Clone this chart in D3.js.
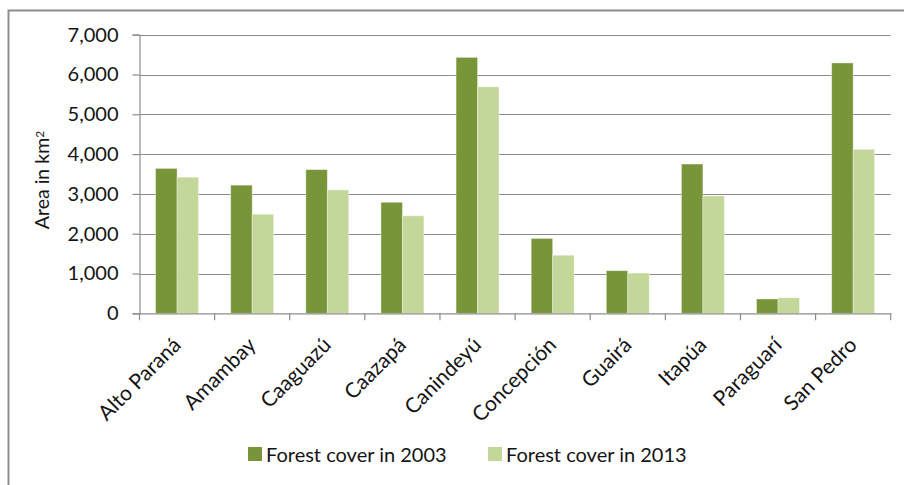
<!DOCTYPE html>
<html>
<head>
<meta charset="utf-8">
<script src="https://cdn.jsdelivr.net/npm/d3@7/dist/d3.min.js"></script>
<style>
  html, body { margin: 0; padding: 0; background: #fff; }
  svg { display: block; }
  text { font-family: Lato, "Open Sans", sans-serif; fill: #141414; }
</style>
</head>
<body>
<svg id="chart" width="904" height="485"></svg>
<script>
// Forest cover by department (km²)
const departments = ["Alto Paraná", "Amambay", "Caaguazú", "Caazapá", "Canindeyú",
                     "Concepción", "Guairá", "Itapúa", "Paraguarí", "San Pedro"];
const cover2003 = [3640, 3220, 3610, 2790, 6430, 1880, 1070, 3750, 360, 6290];
const cover2013 = [3420, 2490, 3100, 2450, 5690, 1460, 1010, 2950, 390, 4120];
const seriesNames = ["Forest cover in 2003", "Forest cover in 2013"];
const yTicks = [0, 1000, 2000, 3000, 4000, 5000, 6000, 7000];

const colors = ["#799539", "#c4d79b"];
const gridColor = "#8c8c8c";

const svg = d3.select("#chart");

// outer frame
svg.append("rect")
  .attr("x", 8.5).attr("y", 10.5)
  .attr("width", 1000).attr("height", 1000)
  .attr("fill", "none").attr("stroke", gridColor).attr("stroke-width", 2);

const plot = { left: 139.5, right: 890.7, top: 34.7, bottom: 313.3 };

const y = d3.scaleLinear().domain([0, 7000]).range([plot.bottom, plot.top]);
const x0 = d3.scaleBand().domain(departments).range([plot.left, plot.right]).padding(0);
const x1 = d3.scaleBand().domain(seriesNames).range([0, x0.bandwidth()])
  .paddingInner(0).paddingOuter(0.75);

const fmt = d3.format(",");

// horizontal gridlines
svg.append("g")
  .selectAll("line")
  .data(yTicks.filter(d => d > 0))
  .join("line")
  .attr("x1", plot.left).attr("x2", plot.right)
  .attr("y1", d => Math.round(y(d)) + 0.5).attr("y2", d => Math.round(y(d)) + 0.5)
  .attr("stroke", gridColor).attr("stroke-width", 1.2);

// y axis
const yAxis = d3.axisLeft(y).tickValues(yTicks).tickFormat(fmt).tickSize(7).tickPadding(14);
const gy = svg.append("g")
  .attr("transform", `translate(${plot.left},0)`)
  .call(yAxis);
gy.select(".domain").attr("stroke", gridColor).attr("stroke-width", 1.2);
gy.selectAll(".tick line").attr("stroke", gridColor).attr("stroke-width", 1.2);
gy.selectAll(".tick text")
  .style("font-size", "20px")
  .style("font-family", "Lato, sans-serif")
  .attr("fill", "#141414");

// bars
const groups = svg.append("g")
  .selectAll("g")
  .data(departments.map((d, i) => ({ dept: d, vals: [cover2003[i], cover2013[i]] })))
  .join("g")
  .attr("transform", d => `translate(${x0(d.dept)},0)`);

groups.selectAll("rect")
  .data(d => d.vals.map((v, j) => ({ key: seriesNames[j], value: v, j })))
  .join("rect")
  .attr("x", d => x1(d.key))
  .attr("y", d => y(d.value))
  .attr("width", x1.bandwidth())
  .attr("height", d => y(0) - y(d.value))
  .attr("fill", d => colors[d.j])
  .attr("stroke", "rgba(255,255,255,0.45)")
  .attr("stroke-width", 0.8);

// x axis
const xAxis = d3.axisBottom(x0).tickSize(0).tickFormat("");
const gx = svg.append("g")
  .attr("transform", `translate(0,${plot.bottom})`)
  .call(xAxis);
gx.select(".domain").attr("stroke", gridColor).attr("stroke-width", 1.2);

// category separator ticks
const edges = departments.map(d => x0(d)).concat([plot.right]);
svg.append("g")
  .selectAll("line")
  .data(edges)
  .join("line")
  .attr("x1", d => d).attr("x2", d => d)
  .attr("y1", plot.bottom).attr("y2", plot.bottom + 7)
  .attr("stroke", gridColor).attr("stroke-width", 1.2);

// rotated category labels, anchored at the end of the baseline
svg.append("g")
  .selectAll("text")
  .data(departments)
  .join("text")
  .attr("transform", d => `translate(${x0(d) + x0.bandwidth() / 2 + 5},${plot.bottom + 33}) rotate(-45)`)
  .attr("text-anchor", "end")
  .style("font-size", "21px")
  .text(d => d);

// y axis title
const yTitle = svg.append("text")
  .attr("transform", "translate(49,180) rotate(-90)")
  .attr("text-anchor", "middle")
  .style("font-size", "19.5px");
yTitle.append("tspan").text("Area in km");
yTitle.append("tspan").attr("dy", "-0.45em").style("font-size", "12px").text("2");

// legend
const legendX = [248, 488];
const legend = svg.append("g")
  .selectAll("g")
  .data(seriesNames)
  .join("g")
  .attr("transform", (d, i) => `translate(${legendX[i]},447)`);
legend.append("rect")
  .attr("width", 14).attr("height", 14)
  .attr("fill", (d, i) => colors[i]);
legend.append("text")
  .attr("x", 18).attr("y", 15)
  .style("font-size", "20px")
  .text(d => d);
</script>
</body>
</html>
